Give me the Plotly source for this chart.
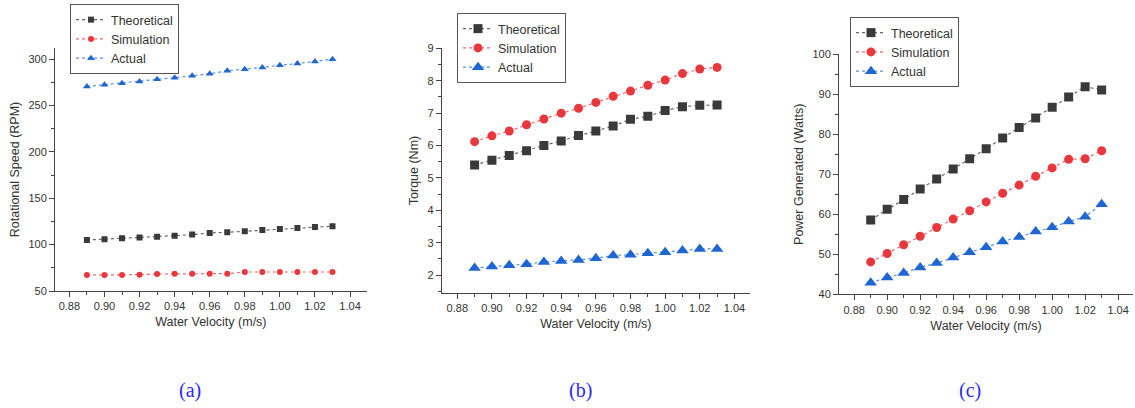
import plotly.graph_objects as go

velocity = [0.89, 0.90, 0.91, 0.92, 0.93, 0.94, 0.95, 0.96, 0.97, 0.98, 0.99, 1.00, 1.01, 1.02, 1.03]

# (a) Rotational speed (RPM)
rpm_theoretical = [105, 105.8, 106.8, 107.6, 108.6, 109.7, 110.8, 112.6, 113.3, 114.4, 115.8, 116.9, 118, 119, 119.8]
rpm_simulation = [67.3, 67.3, 67.3, 67.6, 68.3, 68.7, 68.7, 68.7, 68.7, 70.5, 70.5, 70.5, 70.5, 70.5, 70.5]
rpm_actual = [270.5, 272.3, 274, 276, 278.4, 279.9, 282, 284.2, 287.4, 289.2, 291, 293.5, 295.3, 297.5, 300]

# (b) Torque (Nm)
torque_theoretical = [5.40, 5.55, 5.69, 5.84, 6.00, 6.14, 6.31, 6.45, 6.60, 6.81, 6.90, 7.08, 7.20, 7.24, 7.25]
torque_simulation = [6.12, 6.30, 6.45, 6.64, 6.82, 7.00, 7.15, 7.33, 7.52, 7.68, 7.86, 8.02, 8.22, 8.36, 8.41]
torque_actual = [2.22, 2.27, 2.31, 2.34, 2.41, 2.44, 2.47, 2.52, 2.61, 2.63, 2.68, 2.71, 2.76, 2.81, 2.81]

# (c) Power generated (Watts)
power_theoretical = [58.6, 61.25, 63.7, 66.3, 68.8, 71.3, 73.9, 76.4, 79.1, 81.7, 84.1, 86.75, 89.3, 91.9, 91.1]
power_simulation = [48.1, 50.2, 52.4, 54.5, 56.7, 58.8, 60.9, 63.1, 65.25, 67.3, 69.5, 71.6, 73.75, 73.9, 75.9]
power_actual = [42.9, 44.2, 45.3, 46.7, 47.8, 49.2, 50.5, 51.75, 53.2, 54.3, 55.7, 56.75, 58.2, 59.4, 62.5]

series_names = ["Theoretical", "Simulation", "Actual"]
panel_labels = ["(a)", "(b)", "(c)"]
y_titles = ["Rotational Speed (RPM)", "Torque (Nm)", "Power Generated (Watts)"]
x_title = "Water Velocity (m/s)"

colors = ["#3a3a3a", "#e8383d", "#1f66d1"]
line_colors = ["#666666", "#e86a6e", "#5a8fdc"]
symbols = ["square", "circle", "triangle-up"]

panels = [
    [rpm_theoretical, rpm_simulation, rpm_actual],
    [torque_theoretical, torque_simulation, torque_actual],
    [power_theoretical, power_simulation, power_actual],
]

marker_sizes = [[6, 6, 7], [9, 9, 11], [9, 9, 11]]

W, H = 1135, 408
x_domains_px = [(55, 366.7), (441.7, 750), (839, 1133)]
y_domains_px = [(48, 291), (48.3, 292.7), (54.3, 294.3)]
x_ranges = [(0.8718, 1.0495), (0.871, 1.049), (0.8708, 1.049)]
y_ranges = [(50, 312), (1.46, 9), (40, 100)]
y_dticks = [50, 1, 10]
legend_pos_px = [(70, 4), (457, 13), (850, 17)]
label_x_px = [190, 580, 970]

fig = go.Figure()
text_color = "#333333"
axis_color = "#444444"
font_family = "Liberation Sans, Arial, sans-serif"

for p in range(3):
    xa = "x" if p == 0 else f"x{p+1}"
    ya = "y" if p == 0 else f"y{p+1}"
    lg = "legend" if p == 0 else f"legend{p+1}"
    for s in range(3):
        fig.add_trace(go.Scatter(
            x=velocity, y=panels[p][s], name=series_names[s],
            mode="lines+markers", xaxis=xa, yaxis=ya, legend=lg,
            line=dict(color=line_colors[s], width=1.2, dash="dot"),
            marker=dict(symbol=symbols[s], size=marker_sizes[p][s], color=colors[s]),
        ))

layout = dict(
    width=W, height=H, margin=dict(l=0, r=0, t=0, b=0, pad=0, autoexpand=False),
    paper_bgcolor="white", plot_bgcolor="white",
    font=dict(family=font_family, color=text_color, size=11),
    showlegend=True,
)

for p in range(3):
    xk = "xaxis" if p == 0 else f"xaxis{p+1}"
    yk = "yaxis" if p == 0 else f"yaxis{p+1}"
    xa = "x" if p == 0 else f"x{p+1}"
    ya = "y" if p == 0 else f"y{p+1}"
    x0, x1 = x_domains_px[p]
    yt, yb = y_domains_px[p]
    layout[xk] = dict(
        domain=[x0 / W, x1 / W], anchor=ya, range=list(x_ranges[p]),
        showline=True, linecolor=axis_color, linewidth=1, showgrid=False, zeroline=False,
        ticks="outside", ticklen=5, tickcolor=axis_color, dtick=0.02, tick0=0.88,
        tickformat=".2f", tickfont=dict(size=11, color=text_color),
        minor=dict(ticks="outside", ticklen=3, dtick=0.01, tick0=0.88, tickcolor=axis_color, showgrid=False),
        title=dict(text=x_title, font=dict(size=12.5, color=text_color), standoff=6),
        automargin=False,
    )
    layout[yk] = dict(
        domain=[1 - yb / H, 1 - yt / H], anchor=xa, range=list(y_ranges[p]),
        showline=True, linecolor=axis_color, linewidth=1, showgrid=False, zeroline=False,
        ticks="outside", ticklen=5, tickcolor=axis_color, dtick=y_dticks[p],
        tickfont=dict(size=11, color=text_color),
        minor=dict(ticks="outside", ticklen=3, dtick=y_dticks[p] / 2, tickcolor=axis_color, showgrid=False),
        title=dict(text=y_titles[p], font=dict(size=12.5, color=text_color), standoff=6),
        automargin=False,
    )
    lk = "legend" if p == 0 else f"legend{p+1}"
    lx, ly = legend_pos_px[p]
    layout[lk] = dict(
        x=lx / W, y=1 - ly / H, xanchor="left", yanchor="top",
        bordercolor="#555555", borderwidth=1, bgcolor="rgba(255,255,255,0)",
        font=dict(size=12.5, color=text_color), tracegroupgap=0, itemwidth=30,
    )

fig.update_layout(**layout)

for p in range(3):
    fig.add_annotation(
        x=label_x_px[p] / W, y=1 - 390 / H, xref="paper", yref="paper",
        xanchor="center", yanchor="middle",
        text=panel_labels[p], showarrow=False,
        font=dict(family="Liberation Serif, Times New Roman, serif", size=20, color="#2a2aff"),
    )

fig.write_html(
    "out.html",
    config={"displayModeBar": False},
    post_script="document.body.style.margin='0';document.body.style.overflow='hidden';",
)
